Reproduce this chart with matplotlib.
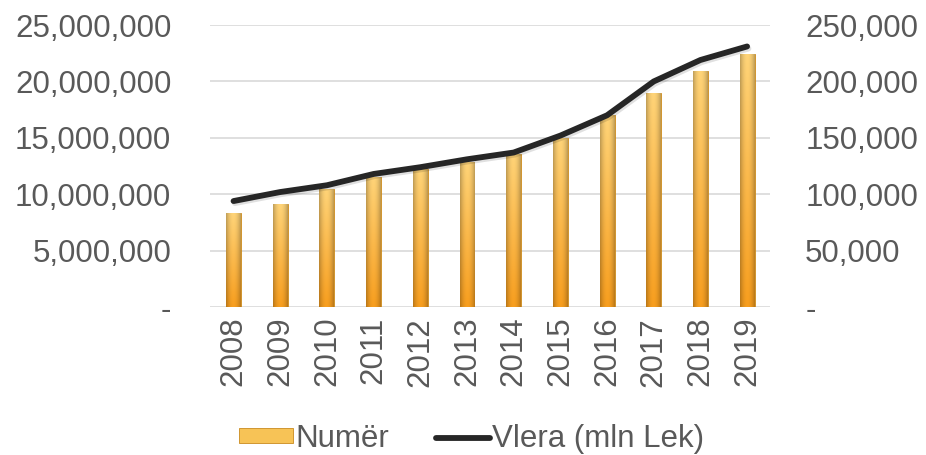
import matplotlib.pyplot as plt
import numpy as np
from matplotlib.lines import Line2D
from matplotlib.patches import Patch
from matplotlib.ticker import FuncFormatter
import matplotlib.patheffects as pe

plt.rcParams['font.family'] = ['Liberation Sans', 'DejaVu Sans']

# Të dhënat
vitet = ['2008', '2009', '2010', '2011', '2012', '2013',
         '2014', '2015', '2016', '2017', '2018', '2019']
numer = [8300000, 9100000, 10500000, 11500000, 12200000, 12900000,
         13600000, 15000000, 17000000, 19000000, 20900000, 22400000]
vlera = [94000, 102000, 108000, 118000, 124000, 131000,
         137000, 152000, 170000, 200000, 219000, 231000]

ngjyra_tekst = '#595959'
fs = 22.5

fig = plt.figure(figsize=(9.26, 4.55), dpi=100)
ax = fig.add_axes([0.227, 0.325, 0.605, 0.62])
ax2 = ax.twinx()

x = np.arange(len(vitet))
bars = ax.bar(x, numer, width=0.32, color='#F7AE35', edgecolor='#C98A1E',
              linewidth=0.6, zorder=2)

# gradient per shtyllat
grad = np.zeros((64, 32, 3))
top = np.array([1.0, 0.83, 0.47])
bot = np.array([0.97, 0.62, 0.12])
for i in range(64):
    t = i / 63
    grad[i, :, :] = top * (1 - t) + bot * t
shade = 1 - 0.25 * np.abs(np.linspace(-1, 1, 32)) ** 2
grad = grad * shade[None, :, None]
for b in bars:
    x0, w, h = b.get_x(), b.get_width(), b.get_height()
    im = ax.imshow(grad, extent=[x0, x0 + w, 0, h], aspect='auto',
                   zorder=2.1, origin='upper')
    im.set_clip_path(b)

ax.set_xlim(-0.5, len(vitet) - 0.5)
ax.set_ylim(0, 25000000)
ax.set_yticks(np.arange(0, 25000001, 5000000))
ax.yaxis.set_major_formatter(FuncFormatter(lambda v, p: '-' if v == 0 else f'{int(v):,}'))
ax.grid(axis='y', color='#D9D9D9', linewidth=1.2, zorder=0)
ax.set_axisbelow(True)

ax2.plot(x, vlera, color='#262626', linewidth=4.2, solid_capstyle='round',
         zorder=3,
         path_effects=[pe.SimpleLineShadow(offset=(1, -1.5), alpha=0.12),
                       pe.Normal()])
ax2.set_ylim(0, 250000)
ax2.set_yticks(np.arange(0, 250001, 50000))
ax2.yaxis.set_major_formatter(FuncFormatter(lambda v, p: '-' if v == 0 else f'{int(v):,}'))

ax.set_xticks(x)
ax.set_xticklabels(vitet, rotation=90)

for a in (ax, ax2):
    for s in a.spines.values():
        s.set_visible(False)
    a.tick_params(length=0, labelsize=fs, colors=ngjyra_tekst)
ax.tick_params(axis='y', pad=28)
ax2.tick_params(axis='y', pad=25)
ax.tick_params(axis='x', pad=7)

handles = [Patch(facecolor='#F7C356', edgecolor='#C98A1E', linewidth=0.6),
           Line2D([0], [0], color='#262626', linewidth=4.2, solid_capstyle='round')]
fig.legend(handles, ['Numër', 'Vlera (mln Lek)'], loc='center',
           bbox_to_anchor=(0.509, 0.035), ncol=2, frameon=False, fontsize=fs,
           labelcolor=ngjyra_tekst, handlelength=1.75, handleheight=0.35,
           handletextpad=0.05, columnspacing=1.5)

fig.savefig('out.png', dpi=100)
